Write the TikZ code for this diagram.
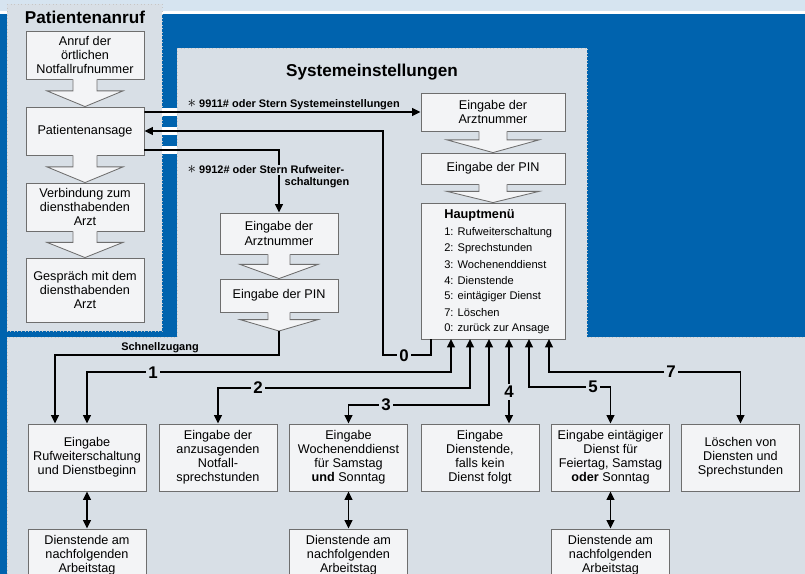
\documentclass[tikz,border=0pt]{standalone}
\usepackage{fontspec}
\setmainfont{Liberation Sans}
\usetikzlibrary{arrows.meta,calc}

\definecolor{topband}{RGB}{214,228,240}
\definecolor{blueback}{RGB}{0,99,174}
\definecolor{panel}{RGB}{216,223,230}
\definecolor{boxfill}{RGB}{243,244,246}
\definecolor{boxline}{RGB}{110,110,110}

% hohler Blockpfeil zwischen zwei Ankern
\newcommand{\flowarrow}[4]{%
  \fill[boxfill] let \p1=(#1), \p2=(#2), \p3=($(#1)!0.5!(#2)$) in
    (\x1-#3,\y1+0.6pt) -- (\x1-#3,\y3+1.5pt) -- (\x1-#4,\y3+1.5pt) -- (\x1,\y2)
    -- (\x1+#4,\y3+1.5pt) -- (\x1+#3,\y3+1.5pt) -- (\x1+#3,\y1+0.6pt) -- cycle;
  \draw[boxline, line width=0.6pt] let \p1=(#1), \p2=(#2), \p3=($(#1)!0.5!(#2)$) in
    (\x1-#3,\y1) -- (\x1-#3,\y3+1.5pt) -- (\x1-#4,\y3+1.5pt) -- (\x1,\y2)
    -- (\x1+#4,\y3+1.5pt) -- (\x1+#3,\y3+1.5pt) -- (\x1+#3,\y1);
}
\newcommand{\codestar}{{\fontsize{13}{13}\selectfont$\ast$}}

\begin{document}
\begin{tikzpicture}[x=0.025cm, y=-0.025cm,
        box/.style={rectangle, draw=boxline, line width=0.6pt, fill=boxfill, inner sep=0pt, minimum width=2.95cm, align=center, font=\fontsize{9}{10}\selectfont},
        widebox/.style={box, minimum width=3.6cm},
        panelhead/.style={font=\fontsize{12.2}{14}\selectfont\bfseries},
        menuline/.style={anchor=west, inner sep=0pt, font=\fontsize{7.9}{9}\selectfont},
        codelabel/.style={inner sep=1pt, font=\fontsize{7.8}{9}\selectfont\bfseries},
        digit/.style={fill=panel, inner sep=1.5pt, font=\fontsize{12}{12}\selectfont\bfseries},
        arrowline/.style={line width=1.3pt, -{Triangle[length=6pt,width=5.5pt]}},
        dualarrow/.style={line width=1.3pt, {Triangle[length=6pt,width=5.5pt]}-{Triangle[length=6pt,width=5.5pt]}},
        paneledge/.style={draw=white!55!gray, dotted, line width=0.5pt}
    ]
        % Hintergrund
        \useasboundingbox (0,0) rectangle (805,574);
        \clip (0,0) rectangle (805,574);
        \fill[topband] (0,0) rectangle (805,11);
        \fill[white] (0,11) rectangle (805,14);
        \fill[blueback] (0,14) rectangle (805,574);

        % Felder
        \fill[panel] (7,4) rectangle (162,331);
        \draw[paneledge] (7,4) rectangle (162,331);
        \fill[panel] (177,48) rectangle (587,340);
        \fill[panel] (7,337) rectangle (805,574);
        \draw[paneledge] (7,574) -- (7,337) -- (177,337) -- (177,48) -- (587,48) -- (587,337) -- (805,337);

        \node[panelhead] (anrufhead) at (85,17) {Patientenanruf};
        \node[panelhead] (systemhead) at (372,72) {Systemeinstellungen};

        % Patientenanruf
        \node[box, minimum height=1.2cm] (notruf) at (85,55) {Anruf der\\örtlichen\\Notfallrufnummer};
        \node[box, minimum height=1.2cm] (ansage) at (85,131) {Patientenansage};
        \node[box, minimum height=1.2cm] (verbindung) at (85,207) {Verbindung zum\\diensthabenden\\Arzt};
        \node[box, minimum height=1.6cm] (gespraech) at (85,290) {Gespräch mit dem\\diensthabenden\\Arzt};

        \flowarrow{notruf.south}{ansage.north}{0.3cm}{0.95cm}
        \flowarrow{ansage.south}{verbindung.north}{0.3cm}{0.95cm}
        \flowarrow{verbindung.south}{gespraech.north}{0.3cm}{0.95cm}

        % Systemeinstellungen
        \node[widebox, minimum height=0.95cm] (arzt1) at (493,112) {Eingabe der\\Arztnummer};
        \node[widebox, minimum height=0.775cm] (pin1) at (493,168.5) {Eingabe der PIN};
        \node[widebox, minimum height=3.4cm] (menu) at (493,271) {};
        \node[anchor=west, inner sep=0pt, font=\fontsize{9.1}{10}\selectfont\bfseries] (menuhead) at (444,215) {Hauptmenü};
        \foreach \txt [count=\i] in {1: Rufweiterschaltung, 2: Sprechstunden, 3: Wochenenddienst, 4: Dienstende, 5: eintägiger Dienst, 7: Löschen, 0: zurück zur Ansage}
            \node[menuline] (menuitem\i) at (444,217+16*\i) {\txt};

        \flowarrow{arzt1.south}{pin1.north}{0.35cm}{1.15cm}
        \flowarrow{pin1.south}{menu.north}{0.35cm}{1.15cm}

        % Rufweiterschaltung
        \node[box, minimum height=1.025cm] (arzt2) at (279,233.5) {Eingabe der\\Arztnummer};
        \node[box, minimum height=0.825cm] (pin2) at (279,295.5) {Eingabe der PIN};
        \coordinate (quick) at (279,331);

        \flowarrow{arzt2.south}{pin2.north}{0.275cm}{0.975cm}
        \flowarrow{pin2.south}{quick}{0.275cm}{0.975cm}

        % Eingaben
        \node[box, minimum height=1.675cm] (rufweiter) at (87,457.5) {Eingabe\\Rufweiterschaltung\\und Dienstbeginn};
        \node[box, minimum height=1.675cm] (sprechst) at (218,457.5) {Eingabe der\\anzusagenden\\Notfall-\\sprechstunden};
        \node[box, minimum height=1.675cm] (wochenende) at (348.5,457.5) {Eingabe\\Wochenenddienst\\für Samstag\\\textbf{und} Sonntag};
        \node[box, minimum height=1.675cm] (dienstende) at (480,457.5) {Eingabe\\Dienstende,\\falls kein\\Dienst folgt};
        \node[box, minimum height=1.675cm] (eintag) at (610.5,457.5) {Eingabe eintägiger\\Dienst für\\Feiertag, Samstag\\\textbf{oder} Sonntag};
        \node[box, minimum height=1.675cm] (loeschen) at (740.5,457.5) {Löschen von\\Diensten und\\Sprechstunden};

        \node[box, minimum height=1.3cm] (folge1) at (87,555) {Dienstende am\\nachfolgenden\\Arbeitstag};
        \node[box, minimum height=1.3cm] (folge3) at (348.5,555) {Dienstende am\\nachfolgenden\\Arbeitstag};
        \node[box, minimum height=1.3cm] (folge5) at (610.5,555) {Dienstende am\\nachfolgenden\\Arbeitstag};

        \draw[dualarrow] (rufweiter) -- (folge1);
        \draw[dualarrow] (wochenende) -- (folge3);
        \draw[dualarrow] (eintag) -- (folge5);

        % Sprungcodes
        \fill[white] (162,108) rectangle (177,116);
        \fill[white] (162,127) rectangle (177,135);
        \fill[white] (162,146) rectangle (177,154);

        \draw[arrowline] ([yshift=0.475cm]ansage.east) -- (arzt1.west);
        \node[codelabel, anchor=west] (code9911) at (186,105) {\codestar\ 9911\# oder Stern Systemeinstellungen};

        \draw[arrowline] ([yshift=-0.475cm]ansage.east) -| (arzt2.north);
        \node[codelabel, fill=panel, anchor=west] (code9912) at (186,170) {\codestar\ 9912\# oder Stern Rufweiter-};
        \node[codelabel, anchor=west] (code9912b) at (283,183) {schaltungen};

        \draw[arrowline] (quick) -- (279,355) -| ([xshift=-0.8cm]rufweiter.north);
        \node[codelabel] (schnell) at (160,348) {Schnellzugang};

        % Menuepunkte
        \foreach \k/\x in {0/431, 1/451, 2/470, 3/489, 4/509, 5/529, 7/549}
            \coordinate (out\k) at (\x,339);

        \draw[arrowline] (out0) |- (383,355) |- (ansage.east);
        \draw[dualarrow] (out1) -- (451,372) -| (rufweiter.north);
        \draw[dualarrow] (out2) -- (470,388) -| (sprechst.north);
        \draw[dualarrow] (out3) -- (489,405) -| (wochenende.north);
        \draw[dualarrow] (out4) -- (out4 |- dienstende.north);
        \draw[dualarrow] (out5) -- (529,387) -| (eintag.north);
        \draw[dualarrow] (out7) -- (549,372) -| (loeschen.north);

        \node[digit] (code0) at (404,356) {0};
        \node[digit] (code1) at (153,373) {1};
        \node[digit] (code2) at (258,388) {2};
        \node[digit] (code3) at (386,405) {3};
        \node[digit] (code4) at (509,392) {4};
        \node[digit] (code5) at (593,387) {5};
        \node[digit] (code7) at (671,372) {7};
    \end{tikzpicture}
\end{document}
